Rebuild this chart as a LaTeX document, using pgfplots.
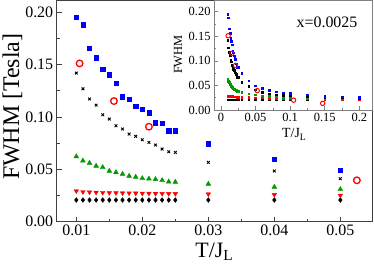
\documentclass[border=0pt]{standalone}
\usepackage{fontspec}
\setmainfont{Liberation Serif}
\usepackage{pgfplots}
\usepackage{pgfplotstable}
\pgfplotsset{compat=1.18}
\definecolor{myblue}{rgb}{0,0,1}
\definecolor{mygreen}{rgb}{0,0.6,0}
\definecolor{myred}{rgb}{1,0,0}
\definecolor{frame}{rgb}{0.25,0.25,0.25}

\pgfplotstableread{
T W
0.010 0.195
0.011 0.188
0.012 0.1655
0.013 0.1565
0.014 0.1457
0.015 0.1403
0.016 0.1326
0.017 0.1193
0.018 0.1168
0.019 0.1104
0.020 0.1072
0.021 0.1040
0.022 0.0945
0.023 0.0939
0.024 0.0868
0.025 0.0868
0.03 0.0744
0.04 0.0598
0.05 0.0493
0.06 0.044
0.07 0.040
0.08 0.037
0.09 0.035
0.1 0.034
0.125 0.031
0.15 0.028
0.175 0.027
0.2 0.026
}\blue

\pgfplotstableread{
T W
0.010 0.1419
0.011 0.1269
0.012 0.1171
0.013 0.1113
0.014 0.1021
0.015 0.0980
0.016 0.0916
0.017 0.0885
0.018 0.0837
0.019 0.0815
0.020 0.0782
0.021 0.0757
0.022 0.0732
0.023 0.0694
0.024 0.0668
0.025 0.0662
0.03 0.0567
0.04 0.0484
0.05 0.0410
0.06 0.036
0.07 0.033
0.08 0.031
0.09 0.030
0.1 0.029
0.125 0.027
0.15 0.026
0.175 0.025
0.2 0.024
}\blackx

\pgfplotstableread{
T W
0.010 0.0622
0.011 0.0582
0.012 0.0560
0.013 0.0532
0.014 0.0519
0.015 0.0484
0.016 0.0471
0.017 0.0455
0.018 0.0436
0.019 0.0427
0.020 0.0414
0.021 0.0410
0.022 0.0405
0.023 0.0395
0.024 0.0382
0.025 0.0379
0.03 0.0360
0.04 0.0331
0.05 0.0309
0.06 0.029
0.07 0.028
0.08 0.027
0.09 0.026
0.1 0.025
0.125 0.024
0.15 0.024
0.175 0.023
0.2 0.023
}\green

\pgfplotstableread{
T W
0.010 0.0293
0.011 0.0285
0.012 0.0282
0.013 0.0280
0.014 0.0278
0.015 0.0276
0.016 0.0275
0.017 0.0274
0.018 0.0273
0.019 0.0272
0.020 0.0271
0.021 0.0270
0.022 0.0269
0.023 0.0268
0.024 0.0267
0.025 0.0267
0.03 0.0264
0.04 0.0258
0.05 0.0252
0.06 0.025
0.07 0.024
0.08 0.024
0.09 0.023
0.1 0.023
0.125 0.023
0.15 0.022
0.175 0.022
0.2 0.022
}\red

\pgfplotstableread{
T W
0.010 0.0207
0.011 0.0207
0.012 0.0207
0.013 0.0207
0.014 0.0207
0.015 0.0207
0.016 0.0207
0.017 0.0207
0.018 0.0207
0.019 0.0207
0.020 0.0207
0.021 0.0207
0.022 0.0207
0.023 0.0207
0.024 0.0207
0.025 0.0207
0.03 0.0207
0.04 0.0207
0.05 0.0207
0.06 0.021
0.07 0.021
0.08 0.021
0.09 0.021
0.1 0.021
0.125 0.021
0.15 0.021
0.175 0.021
0.2 0.021
}\diam

\pgfplotstableread{
T W
0.0105 0.1511
0.0157 0.1152
0.0210 0.0907
0.0525 0.0395
0.105 0.020
0.147 0.0135
}\circ

\newcommand{\TJ}{T/J\raisebox{-0.35ex}{\fontsize{0.7em}{1em}\selectfont L}}

\begin{document}
\begin{tikzpicture}
\begin{axis}[
  name=main, at={(0,0)}, anchor=south west,
  scale only axis, width=316bp, height=221bp,
  xmin=0.00703, xmax=0.0549, ymin=0, ymax=0.211,
  restrict x to domain=0:0.056,
  axis line style={frame, line width=0.8pt},
  every tick/.style={frame, line width=0.8pt},
  major tick length=5bp, minor tick length=3bp,
  tick pos=left, tick align=inside,
  scaled ticks=false,
  xtick={0.01,0.02,0.03,0.04,0.05},
  minor xtick={0.015,0.025,0.035,0.045},
  ytick={0,0.05,0.1,0.15,0.2},
  minor ytick={0.025,0.075,0.125,0.175},
  xticklabel style={/pgf/number format/.cd, fixed, precision=2, fixed zerofill},
  yticklabel style={/pgf/number format/.cd, fixed, precision=2, fixed zerofill},
  /pgf/number format/assume math mode=true,
  tick label style={font=\fontsize{16}{19}\selectfont},
  ylabel={FWHM [Tesla]},
  ylabel style={font=\fontsize{24}{28}\selectfont, at={(axis description cs:-0.14,0.52)}, anchor=center},
  xlabel={\TJ},
  xlabel style={font=\fontsize{22}{26}\selectfont, at={(axis description cs:0.498,-0.16)}, anchor=base},
]
\addplot[only marks, mark=diamond*, mark size=2.4bp, black] table[x=T,y=W] {\diam};
\addplot[only marks, mark=triangle*, mark size=2.6bp, myred, mark options={rotate=180}] table[x=T,y=W] {\red};
\addplot[only marks, mark=triangle*, mark size=2.8bp, mygreen] table[x=T,y=W] {\green};
\addplot[only marks, mark=x, mark size=1.9bp, black, line width=0.9pt] table[x=T,y=W] {\blackx};
\addplot[only marks, mark=square*, mark size=2.1bp, myblue] table[x=T,y=W] {\blue};
\addplot[only marks, mark=o, mark size=3.3bp, myred, line width=1.3pt] table[x=T,y=W] {\circ};
\end{axis}

\begin{axis}[
  name=inset, at={(157.3bp,111.7bp)}, anchor=south west,
  scale only axis, width=158.5bp, height=109.3bp,
  xmin=-0.01, xmax=0.219, ymin=0, ymax=0.2224,
  axis background/.style={fill=white},
  axis line style={gray, line width=0.7pt},
  every tick/.style={gray, line width=0.6pt},
  major tick length=3.5bp, minor tick length=2bp,
  tick pos=left, tick align=inside,
  scaled ticks=false,
  xtick={0,0.05,0.1,0.15,0.2},
  minor xtick={0.025,0.075,0.125,0.175},
  ytick={0,0.05,0.1,0.15,0.2},
  minor ytick={0.025,0.075,0.125,0.175},
  yticklabel style={/pgf/number format/.cd, fixed, precision=2, fixed zerofill},
  xticklabel style={/pgf/number format/.cd, fixed, precision=2},
  /pgf/number format/assume math mode=true,
  tick label style={font=\fontsize{12.5}{15}\selectfont},
  ylabel={FWHM},
  ylabel style={font=\fontsize{12.5}{15}\selectfont, at={(axis description cs:-0.227,0.507)}, anchor=center},
  xlabel={\TJ},
  xlabel style={font=\fontsize{14}{17}\selectfont, at={(axis description cs:0.505,-0.256)}, anchor=base},
]
\addplot[only marks, mark=square*, mark size=0.85bp, black] table[x=T,y=W] {\diam};
\addplot[only marks, mark=square*, mark size=0.85bp, myred] table[x=T,y=W] {\red};
\addplot[only marks, mark=square*, mark size=0.85bp, mygreen] table[x=T,y=W] {\green};
\addplot[only marks, mark=square*, mark size=0.85bp, black] table[x=T,y=W] {\blackx};
\addplot[only marks, mark=square*, mark size=0.85bp, myblue] table[x=T,y=W] {\blue};
\addplot[only marks, mark=o, mark size=2.2bp, myred, line width=1pt] table[x=T,y=W] {\circ};
\node[font=\fontsize{16}{19}\selectfont] at (axis description cs:0.713,0.80) {x=0.0025};
\end{axis}
\pgfresetboundingbox
\path (-56.7bp,-44.3bp) rectangle (317.3bp,221.7bp);
\end{tikzpicture}
\end{document}
